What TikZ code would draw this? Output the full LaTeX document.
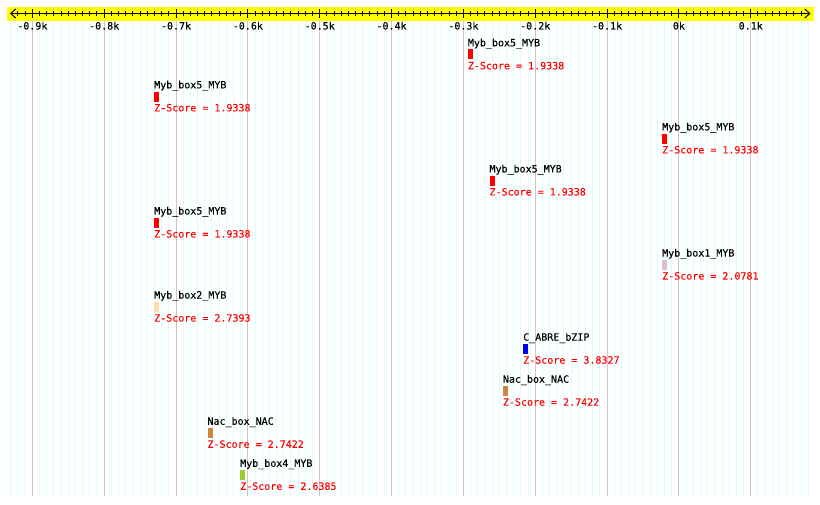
\documentclass[tikz,border=0pt]{standalone}
\usepackage{fontspec}
\usetikzlibrary{arrows.meta}
\newfontfamily\pixmono[FakeBold=0.15]{DejaVu Sans Mono}
\definecolor{mingrid}{RGB}{212,255,255}
\definecolor{majgrid}{RGB}{200,200,200}
\definecolor{bandyellow}{RGB}{255,255,0}
\definecolor{zred}{RGB}{255,0,0}
\definecolor{fred}{RGB}{255,0,0}
\definecolor{fthistle}{RGB}{216,191,216}
\definecolor{fpeach}{RGB}{255,222,173}
\definecolor{fblue}{RGB}{0,0,255}
\definecolor{fbrown}{RGB}{205,133,63}
\definecolor{fgreen}{RGB}{154,205,50}
\tikzset{
  mingridline/.style={draw=mingrid, line width=1pt},
  majgridline/.style={draw=majgrid, line width=1pt},
  axisline/.style={draw=black, line width=1pt, {Straight Barb[length=5pt,width=9pt,line width=1pt]}-{Straight Barb[length=5pt,width=9pt,line width=1pt]}},
  tickmark/.style={draw=black, line width=1pt},
  ticklbl/.style={font=\pixmono\fontsize{10}{10}\selectfont, inner sep=0pt, anchor=base, text=black},
  lbl/.style={font=\pixmono\fontsize{10}{10}\selectfont, inner sep=0pt, anchor=base west, text=black},
  zs/.style={font=\pixmono\fontsize{10}{10}\selectfont, inner sep=0pt, anchor=base west, text=zred},
  featbox/.style={draw=none, inner sep=0pt, minimum width=5pt, minimum height=10pt, anchor=north west},
}
\newcommand\featitem[5]{%
  \pgfmathsetmacro\rowB{46.3+42.05*#1}%
  \node[lbl] (name#1) at (#2,\rowB) {#3};
  \node[featbox, fill=#5] (box#1) at (#2,\rowB+3) {};
  \node[zs] (z#1) at (#2,\rowB+23) {Z-Score = #4};
}
\begin{document}
\begin{tikzpicture}[x=1pt,y=-1pt]
\useasboundingbox (0,0) rectangle (820,505);
\fill[white] (0,0) rectangle (820,505);
% grid
\foreach \v in {-930,-920,...,180} {
  \draw[mingridline] ({678.9+0.7184*\v},21) -- ({678.9+0.7184*\v},496);
}
\foreach \v in {-900,-800,...,100} {
  \draw[majgridline] ({678.9+0.7184*\v},21) -- ({678.9+0.7184*\v},496);
}
% axis band
\fill[bandyellow] (7,7) rectangle (814,21);
\coordinate (axL) at (10,13.5);
\coordinate (axR) at (810.5,13.5);
\draw[axisline] (axL) -- (axR);
\foreach \v in {-920,-910,...,170} {
  \draw[tickmark] ({678.9+0.7184*\v},11.5) -- ({678.9+0.7184*\v},16);
}
\foreach \v/\t [count=\i] in {-900/-0.9k,-800/-0.8k,-700/-0.7k,-600/-0.6k,-500/-0.5k,-400/-0.4k,-300/-0.3k,-200/-0.2k,-100/-0.1k,0/0k,100/0.1k} {
  \draw[tickmark] ({678.9+0.7184*\v},9.5) -- ({678.9+0.7184*\v},18);
  \node[ticklbl] (tick\i) at ({678.9+0.7184*\v},29.5) {\t};
}
% features
\featitem{0}{467.7}{Myb\_box5\_MYB}{1.9338}{fred}
\featitem{1}{154}{Myb\_box5\_MYB}{1.9338}{fred}
\featitem{2}{662}{Myb\_box5\_MYB}{1.9338}{fred}
\featitem{3}{489.3}{Myb\_box5\_MYB}{1.9338}{fred}
\featitem{4}{154}{Myb\_box5\_MYB}{1.9338}{fred}
\featitem{5}{662}{Myb\_box1\_MYB}{2.0781}{fthistle}
\featitem{6}{154}{Myb\_box2\_MYB}{2.7393}{fpeach}
\featitem{7}{523}{C\_ABRE\_bZIP}{3.8327}{fblue}
\featitem{8}{502.7}{Nac\_box\_NAC}{2.7422}{fbrown}
\featitem{9}{207.3}{Nac\_box\_NAC}{2.7422}{fbrown}
\featitem{10}{240}{Myb\_box4\_MYB}{2.6385}{fgreen}
\end{tikzpicture}
\end{document}
